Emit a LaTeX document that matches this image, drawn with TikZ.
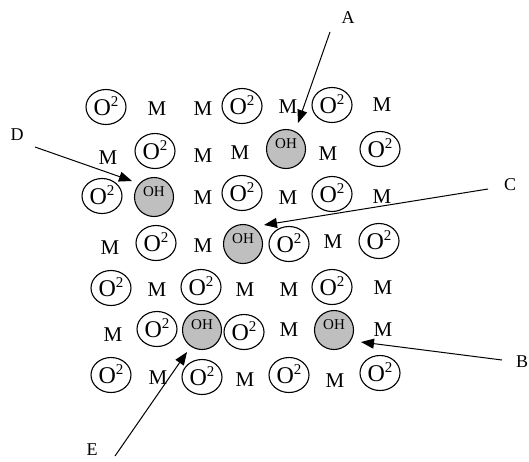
\documentclass[tikz,border=0pt]{standalone}
\usepackage{fontspec}
\setmainfont{Liberation Serif}
\usetikzlibrary{shapes.geometric,arrows.meta}
\newcommand{\Oion}{O\raisebox{8.5pt}{\fontsize{15}{15}\selectfont 2}}
\tikzset{
 oion/.style={draw, ellipse, line width=1.1pt, inner sep=0pt, minimum width=40pt, minimum height=35pt,
   font=\fontsize{24}{24}\selectfont, text height=16pt, text depth=0pt},
 ohion/.style={draw, circle, fill=black!25, line width=1.1pt, inner sep=0pt, minimum size=39pt,
   font=\fontsize{15}{15}\selectfont, text height=10pt, text depth=11pt},
 metal/.style={inner sep=0pt, font=\fontsize{21}{21}\selectfont},
 lbl/.style={inner sep=0pt, font=\fontsize{18}{18}\selectfont},
 pointer/.style={line width=1pt, -{Triangle[length=13pt,width=10pt]}}
}
\begin{document}
\begin{tikzpicture}[x=1pt,y=-1pt]
\useasboundingbox (0,0) rectangle (529,461);
% row 1
\node[oion]  (n11) at (106,107) {\Oion};
\node[metal] (n12) at (157,109) {M};
\node[metal] (n13) at (203,109) {M};
\node[oion]  (n14) at (242,106) {\Oion};
\node[metal] (n15) at (288,107) {M};
\node[oion]  (n16) at (332,105) {\Oion};
\node[metal] (n17) at (382,105) {M};
% row 2
\node[metal] (n21) at (108,158) {M};
\node[oion]  (n22) at (155,151) {\Oion};
\node[metal] (n23) at (203,156) {M};
\node[metal] (n24) at (240,153) {M};
\node[ohion] (n25) at (286,149) {OH};
\node[metal] (n26) at (328,154) {M};
\node[oion]  (n27) at (380,149) {\Oion};
% row 3
\node[oion]  (n31) at (102,196) {\Oion};
\node[ohion] (n32) at (154,197) {OH};
\node[metal] (n33) at (203,198) {M};
\node[oion]  (n34) at (242,193) {\Oion};
\node[metal] (n35) at (288,198) {M};
\node[oion]  (n36) at (332,194) {\Oion};
\node[metal] (n37) at (382,197) {M};
% row 4
\node[metal] (n41) at (110,248) {M};
\node[oion]  (n42) at (156,243) {\Oion};
\node[metal] (n43) at (203,246) {M};
\node[ohion] (n44) at (243,244) {OH};
\node[oion]  (n45) at (289,244) {\Oion};
\node[metal] (n46) at (333,242) {M};
\node[oion]  (n47) at (379,241) {\Oion};
% row 5
\node[oion]  (n51) at (111,288) {\Oion};
\node[metal] (n52) at (157,290) {M};
\node[oion]  (n53) at (201,287) {\Oion};
\node[metal] (n54) at (245,290) {M};
\node[metal] (n55) at (289,290) {M};
\node[oion]  (n56) at (332,287) {\Oion};
\node[metal] (n57) at (383,288) {M};
% row 6
\node[metal] (n61) at (113,335) {M};
\node[oion]  (n62) at (157,329) {\Oion};
\node[ohion] (n63) at (202,330) {OH};
\node[oion]  (n64) at (244,332) {\Oion};
\node[metal] (n65) at (289,330) {M};
\node[ohion] (n66) at (334,330) {OH};
\node[metal] (n67) at (383,330) {M};
% row 7
\node[oion]  (n71) at (111,375) {\Oion};
\node[metal] (n72) at (158,378) {M};
\node[oion]  (n73) at (202,377) {\Oion};
\node[metal] (n74) at (245,380) {M};
\node[oion]  (n75) at (289,375) {\Oion};
\node[metal] (n76) at (335,381) {M};
\node[oion]  (n77) at (380,373) {\Oion};
% labels
\node[lbl] (lA) at (348,18) {A};
\node[lbl] (lB) at (522,362) {B};
\node[lbl] (lC) at (510,185) {C};
\node[lbl] (lD) at (17,135) {D};
\node[lbl] (lE) at (92,450) {E};
% pointer ends
\coordinate (sA) at (330,32);
\coordinate (tA) at (298,123);
\coordinate (sB) at (502,360);
\coordinate (tB) at (361,342);
\coordinate (sC) at (488,189);
\coordinate (tC) at (264,225);
\coordinate (sD) at (35,147);
\coordinate (tD) at (132,181);
\coordinate (sE) at (115,456);
\coordinate (tE) at (187,352);
\draw[pointer] (sA) -- (tA);
\draw[pointer] (sB) -- (tB);
\draw[pointer] (sC) -- (tC);
\draw[pointer] (sD) -- (tD);
\draw[pointer] (sE) -- (tE);
\end{tikzpicture}
\end{document}
